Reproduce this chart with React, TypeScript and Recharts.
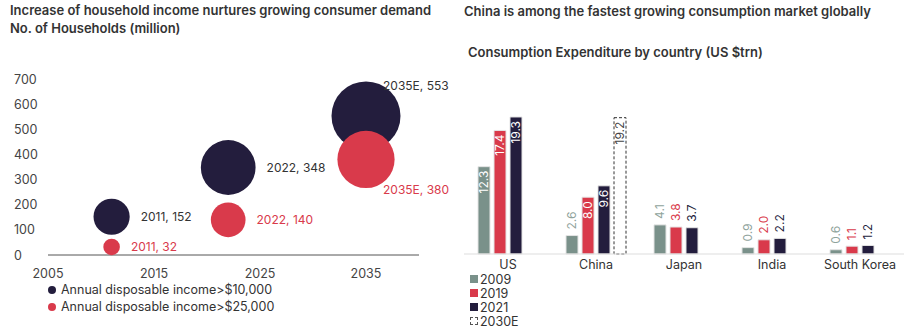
import React from 'react';
import {
  ScatterChart, Scatter, XAxis, YAxis, ZAxis, LabelList,
  BarChart, Bar,
} from 'recharts';

// left chart: households (million)
const hhYears = [2011, 2022, 2035];
const hhOver10k = [152, 348, 553];
const hhOver25k = [32, 140, 380];
const hhLabels10k = ['2011, 152', '2022, 348', '2035E, 553'];
const hhLabels25k = ['2011, 32', '2022, 140', '2035E, 380'];
const yTicks = [0, 100, 200, 300, 400, 500, 600, 700];
const xTicks = [2005, 2015, 2025, 2035];

// right chart: consumption expenditure (US $trn)
const countries = ['US', 'China', 'Japan', 'India', 'South Korea'];
const exp2009 = [12.3, 2.6, 4.1, 0.9, 0.6];
const exp2019 = [17.4, 8.0, 3.8, 2.0, 1.1];
const exp2021 = [19.3, 9.6, 3.7, 2.2, 1.2];
const exp2030E = [null, 19.2, null, null, null];

const DARK = '#231d3d';
const RED = '#d93a4b';
const GREY = '#7a918a';
const FONT = 'Inter, "Noto Sans", sans-serif';

const dark = hhYears.map((x, i) => ({ x, y: hhOver10k[i], z: hhOver10k[i], label: hhLabels10k[i] }));
const red = hhYears.map((x, i) => ({ x, y: hhOver25k[i], z: hhOver25k[i], label: hhLabels25k[i] }));

const barData = countries.map((name, i) => ({
  name,
  y2009: exp2009[i],
  y2019: exp2019[i],
  y2021: exp2021[i],
  y2030: exp2030E[i],
}));

const bubbleLabel = (color: string, last: 'above' | 'below') => (props: any) => {
  const { x, y, width, height, value, index } = props;
  const r = width / 2;
  const cx = x + r;
  const cy = y + height / 2;
  let tx = cx + r + 11;
  let ty = cy;
  if (index === hhYears.length - 1) {
    tx = cx + 17;
    ty = last === 'above' ? cy - r + 4 : cy + r + 1;
  }
  return (
    <text x={tx} y={ty} fill={color} fontSize={12} fontFamily={FONT} dominantBaseline="central">
      {value}
    </text>
  );
};

const YTick = (props: any) => {
  const { y, payload } = props;
  return (
    <text x={14} y={y} fill="#444" fontSize={12.5} fontFamily={FONT} dominantBaseline="central">
      {payload.value}
    </text>
  );
};

const barLabel = (color: string, dashed = false) => (props: any) => {
  const { x, y, width, height, value } = props;
  if (value == null) return null;
  const cx = x + width / 2;
  const inside = dashed || height > 40;
  const ty = inside ? y + 4 : y - 6;
  const fill = dashed ? '#444' : inside ? '#fff' : color;
  return (
    <text
      x={cx}
      y={ty}
      fill={fill}
      fontSize={12}
      fontFamily={FONT}
      textAnchor={inside ? 'end' : 'start'}
      dominantBaseline="central"
      transform={`rotate(-90 ${cx} ${ty})`}
    >
      {Number(value).toFixed(1)}
    </text>
  );
};

const title: React.CSSProperties = {
  position: 'absolute',
  fontFamily: FONT,
  fontSize: 13,
  fontWeight: 600,
  color: '#333',
  lineHeight: '18px',
  whiteSpace: 'nowrap',
};

const legendText: React.CSSProperties = {
  fontFamily: FONT,
  fontSize: 12.5,
  color: '#333',
  whiteSpace: 'nowrap',
  display: 'flex',
  alignItems: 'center',
};

export default function App() {
  return (
    <div style={{ position: 'absolute', left: 0, top: 0, width: 904, height: 334, background: '#fff', overflow: 'hidden' }}>
      <div style={{ ...title, left: 10, top: 1 }}>
        Increase of household income nurtures growing consumer demand
        <br />
        No. of Households (million)
      </div>
      <div style={{ ...title, left: 464, top: 2 }}>China is among the fastest growing consumption market globally</div>
      <div style={{ ...title, left: 468, top: 43 }}>Consumption Expenditure by country (US $trn)</div>

      <div style={{ position: 'absolute', left: 0, top: 0 }}>
        <ScatterChart width={450} height={334} margin={{ top: 79, right: 31, bottom: 49, left: 8 }}>
          <XAxis
            type="number"
            dataKey="x"
            domain={[2005, 2040]}
            ticks={xTicks}
            tickLine={false}
            axisLine={{ stroke: '#555' }}
            tick={{ fill: '#444', fontSize: 12.5, fontFamily: FONT }}
            tickMargin={8}
            height={30}
          />
          <YAxis
            type="number"
            dataKey="y"
            domain={[0, 700]}
            ticks={yTicks}
            axisLine={false}
            tickLine={false}
            tick={<YTick />}
            width={40}
          />
          <ZAxis type="number" dataKey="z" domain={[0, 553]} range={[0, 3740]} />
          <Scatter data={dark} fill={DARK} isAnimationActive={false}>
            <LabelList dataKey="label" content={bubbleLabel('#333', 'above')} />
          </Scatter>
          <Scatter data={red} fill={RED} isAnimationActive={false}>
            <LabelList dataKey="label" content={bubbleLabel(RED, 'below')} />
          </Scatter>
        </ScatterChart>
      </div>

      <div style={{ position: 'absolute', left: 48, top: 281 }}>
        <div style={{ ...legendText, height: 17 }}>
          <span style={{ width: 8, height: 8, borderRadius: 4, background: DARK, marginRight: 5 }} />
          Annual disposable income&gt;$10,000
        </div>
        <div style={{ ...legendText, height: 17 }}>
          <span style={{ width: 8, height: 8, borderRadius: 4, background: RED, marginRight: 5 }} />
          Annual disposable income&gt;$25,000
        </div>
      </div>

      <div style={{ position: 'absolute', left: 450, top: 0 }}>
        <BarChart
          width={454}
          height={334}
          data={barData}
          margin={{ top: 112, right: 0, bottom: 50, left: 14 }}
          barSize={12}
          barGap={4}
        >
          <XAxis
            dataKey="name"
            tickLine={false}
            axisLine={{ stroke: '#ddd' }}
            tick={{ fill: '#333', fontSize: 12.5, fontFamily: FONT }}
            tickMargin={0}
            height={30}
            interval={0}
          />
          <YAxis hide domain={[0, 20]} />
          <Bar dataKey="y2009" fill={GREY} stroke="#e4e4e4" isAnimationActive={false}>
            <LabelList dataKey="y2009" content={barLabel('#8fa39c')} />
          </Bar>
          <Bar dataKey="y2019" fill={RED} stroke="#e4e4e4" isAnimationActive={false}>
            <LabelList dataKey="y2019" content={barLabel(RED)} />
          </Bar>
          <Bar dataKey="y2021" fill={DARK} stroke="#e4e4e4" isAnimationActive={false}>
            <LabelList dataKey="y2021" content={barLabel(DARK)} />
          </Bar>
          <Bar dataKey="y2030" fill="#fff" stroke="#333" strokeDasharray="3 2" isAnimationActive={false}>
            <LabelList dataKey="y2030" content={barLabel('#444', true)} />
          </Bar>
        </BarChart>
      </div>

      <div style={{ position: 'absolute', left: 470, top: 272 }}>
        {[
          { name: '2009', color: GREY },
          { name: '2019', color: RED },
          { name: '2021', color: DARK },
        ].map((s) => (
          <div key={s.name} style={{ ...legendText, height: 14 }}>
            <span style={{ width: 8, height: 8, background: s.color, marginRight: 2 }} />
            {s.name}
          </div>
        ))}
        <div style={{ ...legendText, height: 14 }}>
          <span style={{ width: 6, height: 6, border: '1px dashed #555', marginRight: 2 }} />
          2030E
        </div>
      </div>
    </div>
  );
}
